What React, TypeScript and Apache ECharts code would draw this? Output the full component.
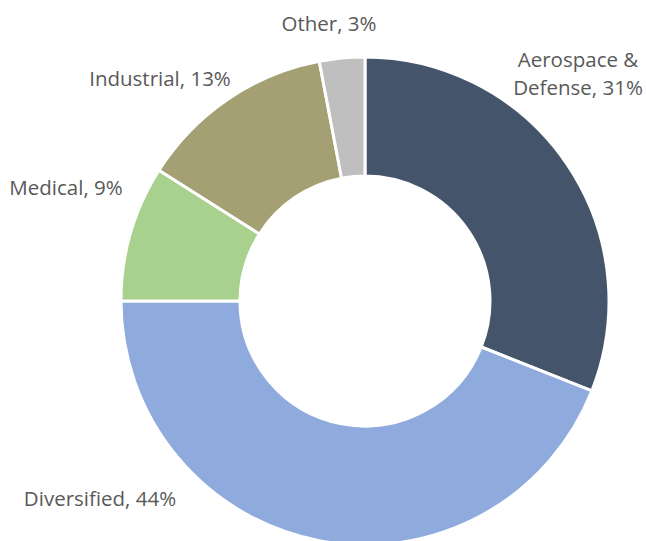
import React, { useEffect, useRef } from "react";
import * as echarts from "echarts";

const categories = ["Aerospace &\nDefense", "Diversified", "Medical", "Industrial", "Other"];
const shares = [31, 44, 9, 13, 3];
const colors = ["#44546A", "#8FAADC", "#A9D18E", "#A5A073", "#BFBFBF"];
const labelSpots: [number, number][] = [
  [578, 73],
  [100, 498],
  [66, 187],
  [160, 78],
  [329, 23],
];

export default function App() {
  const ref = useRef<HTMLDivElement>(null);
  useEffect(() => {
    if (!ref.current) return;
    const chart = echarts.init(ref.current, null, { renderer: "svg" });
    chart.setOption({
      animation: false,
      backgroundColor: "#ffffff",
      series: [
        {
          type: "pie",
          center: [365, 301],
          radius: [125, 244],
          startAngle: 90,
          clockwise: true,
          avoidLabelOverlap: false,
          data: categories.map((c, i) => ({
            name: c,
            value: shares[i],
            itemStyle: { color: colors[i] },
          })),
          itemStyle: { borderColor: "#ffffff", borderWidth: 3 },
          label: {
            show: true,
            position: "outside",
            formatter: (p: any) => `${p.name}, ${p.value}%`,
            fontFamily: "Open Sans",
            fontSize: 20.5,
            color: "#595959",
            lineHeight: 28,
            align: "center",
            overflow: "none",
            width: 300,
          },
          labelLine: { show: false },
          labelLayout: (params: any) => {
            const s = labelSpots[params.dataIndex];
            return { x: s[0], y: s[1], align: "center", verticalAlign: "middle", hideOverlap: false };
          },
          emphasis: { disabled: true },
        },
      ],
    });
    return () => chart.dispose();
  }, []);
  return (
    <div
      ref={ref}
      style={{ position: "fixed", left: 0, top: 0, width: 646, height: 541 }}
    />
  );
}
